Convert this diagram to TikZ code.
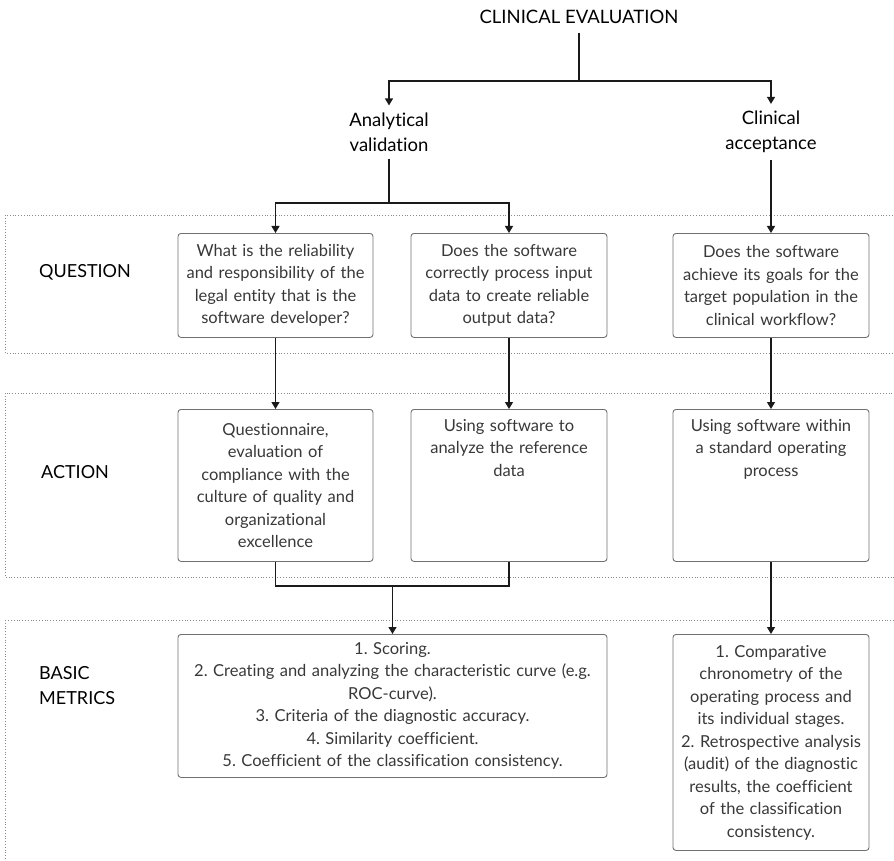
\documentclass[tikz,border=0pt]{standalone}
\usepackage{fontspec}
\setmainfont[Ligatures=NoCommon]{Lato}
\usetikzlibrary{arrows.meta}

\definecolor{boxline}{HTML}{707070}
\definecolor{boxtext}{HTML}{383838}
\definecolor{bandline}{HTML}{8A8A8A}
\definecolor{linkcol}{HTML}{1A1A1A}

\begin{document}
\frenchspacing
\begin{tikzpicture}[x=1pt, y=-1pt,
    heading/.style={font=\fontsize{18.5}{25}\selectfont, align=center, inner sep=7pt},
    bandlabel/.style={font=\fontsize{18}{25}\selectfont, anchor=west, align=left, inner sep=0pt},
    card/.style={draw=boxline, rounded corners=3pt, line width=0.9pt, text=boxtext,
        font=\fontsize{16.5}{22.5}\selectfont, align=center, inner xsep=2pt, inner ysep=6pt, anchor=north},
    topcard/.style={card, text height=16pt, text depth=#1},
    link/.style={draw=linkcol, line width=1.2pt},
    arrow/.style={link, -{Triangle[width=8pt,length=7pt]}},
    band/.style={draw=bandline, dotted, line width=0.8pt}]

    \useasboundingbox (0,0) rectangle (894,861);
    \clip (0,0) rectangle (894,861);

    % dotted bands
    \draw[band] (5,215) rectangle (910,353);
    \draw[band] (5,393) rectangle (910,577);
    \draw[band] (5,620) rectangle (910,900);

    \node[bandlabel] (qlabel) at (39,272) {QUESTION};
    \node[bandlabel] (alabel) at (41,472) {ACTION};
    \node[bandlabel] (mlabel) at (39,686) {BASIC\\METRICS};

    % headings
    \node[heading, inner sep=3pt] (eval) at (579,17) {CLINICAL EVALUATION};
    \node[heading] (anal) at (389,132) {Analytical\\validation};
    \node[heading] (clin) at (771,132) {Clinical\\acceptance};

    % questions
    \node[card, text width=191pt, minimum height=104pt] (q1) at (275.5,233)
        {What is the reliability\\and responsibility of the\\legal entity that is the\\software developer?};
    \node[card, text width=192pt, minimum height=104pt] (q2) at (509,233)
        {Does the software\\correctly process input\\data to create reliable\\output data?};
    \node[card, text width=192pt, minimum height=104pt] (q3) at (771,233)
        {Does the software\\achieve its goals for the\\target population in the\\clinical workflow?};

    % actions
    \node[card, text width=191pt, minimum height=152pt] (a1) at (275.5,409)
        {Questionnaire,\\evaluation of\\compliance with the\\culture of quality and\\organizational\\excellence};
    \node[topcard=124pt, text width=192pt] (a2) at (509,409)
        {Using software to\\analyze the reference\\data};
    \node[topcard=124pt, text width=192pt] (a3) at (771,409)
        {Using software within\\a standard operating\\process};

    % metrics
    \node[card, text width=425pt, minimum height=143pt] (b1) at (392.5,634)
        {1. Scoring.\\2. Creating and analyzing the characteristic curve (e.g.\\ROC-curve).\\3. Criteria of the diagnostic accuracy.\\4. Similarity coefficient.\\5. Coefficient of the classification consistency.};
    \node[card, text width=192pt, minimum height=216pt] (b2) at (771,634)
        {1. Comparative\\chronometry of the\\operating process and\\its individual stages.\\2. Retrospective analysis\\(audit) of the diagnostic\\results, the coefficient\\of the classification\\consistency.};

    % connectors
    \coordinate (evalsplit) at (579,81);
    \draw[link, shorten <=6pt] (eval) -- (evalsplit);
    \draw[arrow] (evalsplit) -| (anal);
    \draw[arrow] (evalsplit) -| (clin);

    \coordinate (analsplit) at (389,203);
    \draw[link] (anal) -- (analsplit);
    \draw[arrow] (analsplit) -| (q1);
    \draw[arrow] (analsplit) -| (q2);
    \draw[arrow] (clin) -- (q3);

    \draw[arrow] (q1) -- (a1);
    \draw[arrow] (q2) -- (a2);
    \draw[arrow] (q3) -- (a3);

    \coordinate (actjoin) at (392.5,586);
    \draw[link] (a1) |- (actjoin) -| (a2);
    \draw[arrow] (actjoin) -- (b1);
    \draw[arrow] (a3) -- (b2);
\end{tikzpicture}
\end{document}
